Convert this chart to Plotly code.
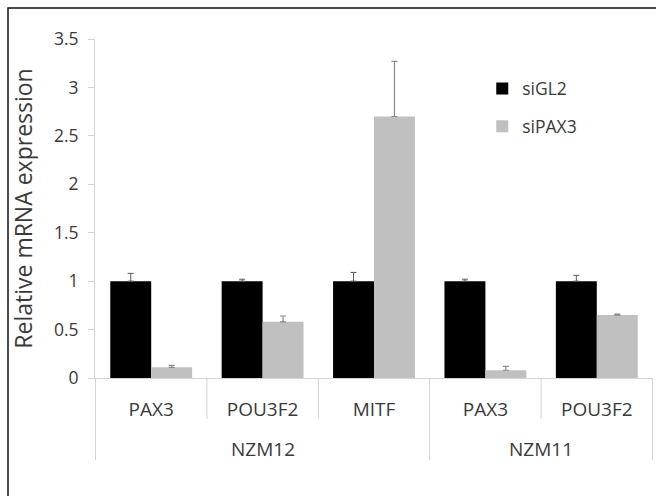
import plotly.graph_objects as go

groups = ["NZM12", "NZM12", "NZM12", "NZM11", "NZM11"]
genes = ["PAX3", "POU3F2", "MITF", "PAX3", "POU3F2"]
sigl2 = [1.0, 1.0, 1.0, 1.0, 1.0]
sigl2_err = [0.08, 0.02, 0.09, 0.02, 0.06]
sipax3 = [0.11, 0.58, 2.70, 0.08, 0.65]
sipax3_err = [0.02, 0.06, 0.57, 0.04, 0.01]
yticks = [0, 0.5, 1, 1.5, 2, 2.5, 3, 3.5]
ytick_text = ["0", "0.5", "1", "1.5", "2", "2.5", "3", "3.5"]

cats = [g + " " + c for g, c in zip(groups, genes)]

FONT = "Open Sans, Liberation Sans, sans-serif"
GRAY_LINE = "#d4d4d4"
TXT = "#3a3a3a"

L, R, T, B = 95, 3, 39, 118
W, H = 656, 496
pw, ph = W - L - R, H - T - B

def py(pix):
    # pixel y from top -> paper y
    return (H - B - pix) / ph

fig = go.Figure()
fig.add_trace(go.Bar(
    x=cats, y=sigl2, name="siGL2", legendgroup="a",
    marker=dict(color="#000000", line=dict(width=0)),
    error_y=dict(type="data", array=sigl2_err, symmetric=False,
                 arrayminus=[0] * len(sigl2), color="#5a5a5a", thickness=1, width=3),
))
fig.add_trace(go.Bar(
    x=cats, y=sipax3, name="siPAX3", legendgroup="b",
    marker=dict(color="#c0c0c0", line=dict(width=0)),
    error_y=dict(type="data", array=sipax3_err, symmetric=False,
                 arrayminus=[0] * len(sipax3), color="#8a8a8a", thickness=1.2, width=3),
))

fig.update_layout(
    width=W, height=H,
    margin=dict(l=L, r=R, t=T, b=B),
    paper_bgcolor="white", plot_bgcolor="white",
    barmode="group", bargap=0.265, bargroupgap=0,
    font=dict(family=FONT, size=16, color=TXT),
    legend=dict(x=0.694, y=0.907, xanchor="left", yanchor="top",
                font=dict(size=17.5, color=TXT), tracegroupgap=12,
                itemwidth=30, bgcolor="rgba(0,0,0,0)"),
    showlegend=True,
)
fig.update_xaxes(
    type="category", tickvals=cats, ticktext=genes,
    showline=True, linecolor=GRAY_LINE, linewidth=1,
    ticks="outside", ticklen=14, tickcolor="rgba(0,0,0,0)",
    tickfont=dict(size=19, color=TXT), showgrid=False,
)
fig.update_yaxes(
    range=[0, 3.5], tickvals=yticks, ticktext=ytick_text,
    showline=True, linecolor=GRAY_LINE, linewidth=1,
    ticks="outside", ticklen=6, tickcolor=GRAY_LINE, showgrid=False,
    zeroline=False, tickfont=dict(size=17.5, color=TXT), ticklabelstandoff=6,
    title=dict(text="Relative mRNA expression", font=dict(size=23, color=TXT), standoff=14),
)

# category separators
for b in [0.5, 1.5, 3.5]:
    fig.add_shape(type="line", xref="x", yref="paper", x0=b, x1=b,
                  y0=0, y1=py(419), line=dict(color=GRAY_LINE, width=1))
for b in [-0.5, 2.5, 4.5]:
    fig.add_shape(type="line", xref="x", yref="paper", x0=b, x1=b,
                  y0=0, y1=py(460), line=dict(color=GRAY_LINE, width=1))

# group labels
group_names = ["NZM12", "NZM11"]
group_centers = [1, 3.5]
for name, xc in zip(group_names, group_centers):
    fig.add_annotation(x=xc, xref="x", y=py(449), yref="paper", text=name,
                       showarrow=False, yanchor="middle",
                       font=dict(size=19, color=TXT))

# outer frame
fig.add_shape(type="rect", xref="paper", yref="paper",
              x0=(8 - L) / pw, x1=1.2, y0=-0.6, y1=py(8),
              line=dict(color="#111111", width=1.5))

fig.write_html("out.html", post_script="document.body.style.margin='0';",
               config={"displayModeBar": False})
